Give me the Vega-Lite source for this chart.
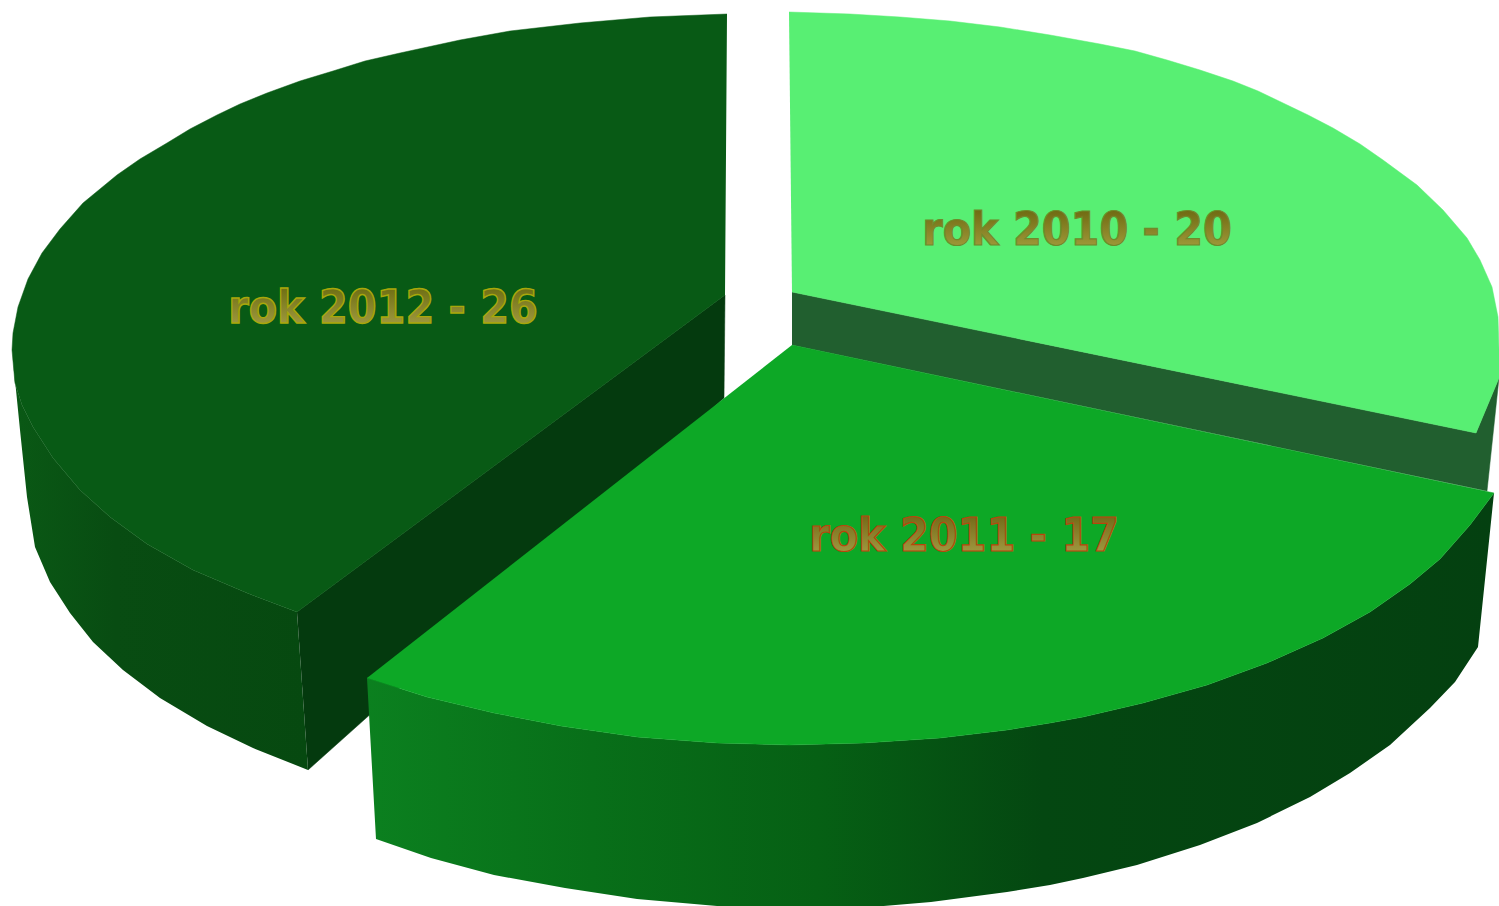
{"$schema":"https://vega.github.io/schema/vega-lite/v6.json","width":1499,"height":906,"autosize":{"type":"fit","contains":"padding"},"padding":0,"background":"white","config":{"view":{"stroke":null}},
"datasets":{
"wall2010":[{"i":1,"x":792,"y":292},{"i":2,"x":1476,"y":433},{"i":3,"x":1499,"y":378},{"i":4,"x":1487,"y":491},{"i":5,"x":792,"y":345}],
"top2010":[{"i":1,"x":789,"y":12},{"i":2,"x":850,"y":14},{"i":3,"x":900,"y":17},{"i":4,"x":950,"y":21},{"i":5,"x":1000,"y":27},{"i":6,"x":1050,"y":35},{"i":7,"x":1100,"y":44},{"i":8,"x":1135,"y":51},{"i":9,"x":1167,"y":60},{"i":10,"x":1200,"y":70},{"i":11,"x":1233,"y":81},{"i":12,"x":1258,"y":91},{"i":13,"x":1283,"y":103},{"i":14,"x":1308,"y":115},{"i":15,"x":1333,"y":128},{"i":16,"x":1360,"y":144},{"i":17,"x":1383,"y":160},{"i":18,"x":1417,"y":185},{"i":19,"x":1443,"y":210},{"i":20,"x":1467,"y":238},{"i":21,"x":1480,"y":260},{"i":22,"x":1492,"y":287},{"i":23,"x":1498,"y":317},{"i":24,"x":1499,"y":350},{"i":25,"x":1499,"y":378},{"i":26,"x":1476,"y":433},{"i":27,"x":792,"y":292}],
"wall2012outer":[{"i":1,"x":12,"y":350},{"i":2,"x":15,"y":383},{"i":3,"x":22,"y":405},{"i":4,"x":33,"y":427},{"i":5,"x":53,"y":458},{"i":6,"x":80,"y":490},{"i":7,"x":110,"y":517},{"i":8,"x":147,"y":544},{"i":9,"x":193,"y":570},{"i":10,"x":247,"y":593},{"i":11,"x":297,"y":612},{"i":12,"x":308,"y":770},{"i":13,"x":253,"y":748},{"i":14,"x":207,"y":726},{"i":15,"x":160,"y":698},{"i":16,"x":123,"y":670},{"i":17,"x":93,"y":642},{"i":18,"x":70,"y":613},{"i":19,"x":50,"y":582},{"i":20,"x":35,"y":547},{"i":21,"x":27,"y":497},{"i":22,"x":20,"y":430}],
"wall2012inner":[{"i":1,"x":297,"y":612},{"i":2,"x":725,"y":295},{"i":3,"x":724,"y":398},{"i":4,"x":308,"y":770}],
"top2012":[{"i":1,"x":727,"y":14},{"i":2,"x":650,"y":17},{"i":3,"x":580,"y":23},{"i":4,"x":510,"y":31},{"i":5,"x":460,"y":40},{"i":6,"x":400,"y":53},{"i":7,"x":365,"y":61},{"i":8,"x":333,"y":71},{"i":9,"x":300,"y":81},{"i":10,"x":267,"y":93},{"i":11,"x":240,"y":104},{"i":12,"x":217,"y":115},{"i":13,"x":190,"y":129},{"i":14,"x":167,"y":143},{"i":15,"x":140,"y":159},{"i":16,"x":117,"y":175},{"i":17,"x":83,"y":203},{"i":18,"x":60,"y":229},{"i":19,"x":42,"y":253},{"i":20,"x":28,"y":279},{"i":21,"x":18,"y":307},{"i":22,"x":13,"y":333},{"i":23,"x":12,"y":350},{"i":24,"x":15,"y":383},{"i":25,"x":22,"y":405},{"i":26,"x":33,"y":427},{"i":27,"x":53,"y":458},{"i":28,"x":80,"y":490},{"i":29,"x":110,"y":517},{"i":30,"x":147,"y":544},{"i":31,"x":193,"y":570},{"i":32,"x":247,"y":593},{"i":33,"x":297,"y":612},{"i":34,"x":725,"y":295}],
"wall2011":[{"i":1,"x":367,"y":678},{"i":2,"x":427,"y":697},{"i":3,"x":494,"y":713},{"i":4,"x":561,"y":726},{"i":5,"x":637,"y":737},{"i":6,"x":717,"y":743},{"i":7,"x":789,"y":745},{"i":8,"x":864,"y":743},{"i":9,"x":940,"y":738},{"i":10,"x":1007,"y":730},{"i":11,"x":1050,"y":723},{"i":12,"x":1083,"y":717},{"i":13,"x":1143,"y":703},{"i":14,"x":1207,"y":685},{"i":15,"x":1267,"y":663},{"i":16,"x":1323,"y":638},{"i":17,"x":1370,"y":612},{"i":18,"x":1410,"y":584},{"i":19,"x":1440,"y":559},{"i":20,"x":1470,"y":525},{"i":21,"x":1494,"y":493},{"i":22,"x":1478,"y":647},{"i":23,"x":1455,"y":682},{"i":24,"x":1430,"y":708},{"i":25,"x":1390,"y":745},{"i":26,"x":1350,"y":773},{"i":27,"x":1310,"y":797},{"i":28,"x":1257,"y":823},{"i":29,"x":1200,"y":845},{"i":30,"x":1137,"y":865},{"i":31,"x":1083,"y":878},{"i":32,"x":1050,"y":885},{"i":33,"x":1007,"y":892},{"i":34,"x":931,"y":902},{"i":35,"x":860,"y":908},{"i":36,"x":800,"y":908},{"i":37,"x":717,"y":906},{"i":38,"x":637,"y":899},{"i":39,"x":565,"y":888},{"i":40,"x":494,"y":875},{"i":41,"x":431,"y":858},{"i":42,"x":376,"y":839}],
"top2011":[{"i":1,"x":792,"y":345},{"i":2,"x":1494,"y":493},{"i":3,"x":1470,"y":525},{"i":4,"x":1440,"y":559},{"i":5,"x":1410,"y":584},{"i":6,"x":1370,"y":612},{"i":7,"x":1323,"y":638},{"i":8,"x":1267,"y":663},{"i":9,"x":1207,"y":685},{"i":10,"x":1143,"y":703},{"i":11,"x":1083,"y":717},{"i":12,"x":1050,"y":723},{"i":13,"x":1007,"y":730},{"i":14,"x":940,"y":738},{"i":15,"x":864,"y":743},{"i":16,"x":789,"y":745},{"i":17,"x":717,"y":743},{"i":18,"x":637,"y":737},{"i":19,"x":561,"y":726},{"i":20,"x":494,"y":713},{"i":21,"x":427,"y":697},{"i":22,"x":367,"y":678}],
"l2010":[{"label":"rok 2010 - 20","x":1077,"y":245}],"l2011":[{"label":"rok 2011 - 17","x":964,"y":551}],"l2012":[{"label":"rok 2012 - 26","x":383,"y":323}]
},
"encoding":{"x":{"field":"x","type":"quantitative","scale":{"domain":[0,1499],"nice":false,"zero":false},"axis":null},"y":{"field":"y","type":"quantitative","scale":{"domain":[906,0],"nice":false,"zero":false},"axis":null}},
"layer":[
{"data":{"name":"wall2010"},"mark":{"type":"line","fill":"#215f2f","stroke":"#215f2f","strokeWidth":0.5,"clip":true},"encoding":{"order":{"field":"i"}}},
{"data":{"name":"top2010"},"mark":{"type":"line","fill":"#58ef73","stroke":"#58ef73","strokeWidth":0.5,"clip":true},"encoding":{"order":{"field":"i"}}},
{"data":{"name":"wall2012outer"},"mark":{"type":"line","stroke":null,"clip":true,"fill":{"gradient":"linear","x1":0,"y1":0,"x2":1,"y2":0,"stops":[{"offset":0,"color":"#0a5915"},{"offset":0.35,"color":"#084c12"},{"offset":1,"color":"#064910"}]}},"encoding":{"order":{"field":"i"}}},
{"data":{"name":"wall2012inner"},"mark":{"type":"line","fill":"#043a0e","stroke":"#043a0e","strokeWidth":0.5,"clip":true},"encoding":{"order":{"field":"i"}}},
{"data":{"name":"top2012"},"mark":{"type":"line","fill":"#085a15","stroke":"#085a15","strokeWidth":0.5,"clip":true},"encoding":{"order":{"field":"i"}}},
{"data":{"name":"wall2011"},"mark":{"type":"line","stroke":null,"clip":true,"fill":{"gradient":"linear","x1":0,"y1":0,"x2":1,"y2":0,"stops":[{"offset":0,"color":"#0b801f"},{"offset":0.2,"color":"#086f19"},{"offset":0.4,"color":"#066014"},{"offset":0.6,"color":"#044711"},{"offset":1,"color":"#044010"}]}},"encoding":{"order":{"field":"i"}}},
{"data":{"name":"top2011"},"mark":{"type":"line","fill":"#0da826","stroke":"#0da826","strokeWidth":0.5,"clip":true},"encoding":{"order":{"field":"i"}}},
{"data":{"name":"l2010"},"mark":{"type":"text","font":"DejaVu Sans Condensed","fontWeight":"bold","fontSize":46,"align":"center","baseline":"alphabetic","stroke":"#6f8a2a","strokeWidth":1.2,"fill":{"gradient":"linear","x1":0,"y1":0,"x2":0,"y2":1,"stops":[{"offset":0.15,"color":"#6f6a12"},{"offset":0.85,"color":"#a09a3a"}]}},"encoding":{"text":{"field":"label"}}},
{"data":{"name":"l2011"},"mark":{"type":"text","font":"DejaVu Sans Condensed","fontWeight":"bold","fontSize":46,"align":"center","baseline":"alphabetic","stroke":"#b8460c","strokeWidth":1.2,"fill":{"gradient":"linear","x1":0,"y1":0,"x2":0,"y2":1,"stops":[{"offset":0.15,"color":"#756a18"},{"offset":0.85,"color":"#a09a40"}]}},"encoding":{"text":{"field":"label"}}},
{"data":{"name":"l2012"},"mark":{"type":"text","font":"DejaVu Sans Condensed","fontWeight":"bold","fontSize":46,"align":"center","baseline":"alphabetic","stroke":"#a8a80a","strokeWidth":1.4,"fill":{"gradient":"linear","x1":0,"y1":0,"x2":0,"y2":1,"stops":[{"offset":0.15,"color":"#6f6f14"},{"offset":0.85,"color":"#a09a40"}]}},"encoding":{"text":{"field":"label"}}}
]}
